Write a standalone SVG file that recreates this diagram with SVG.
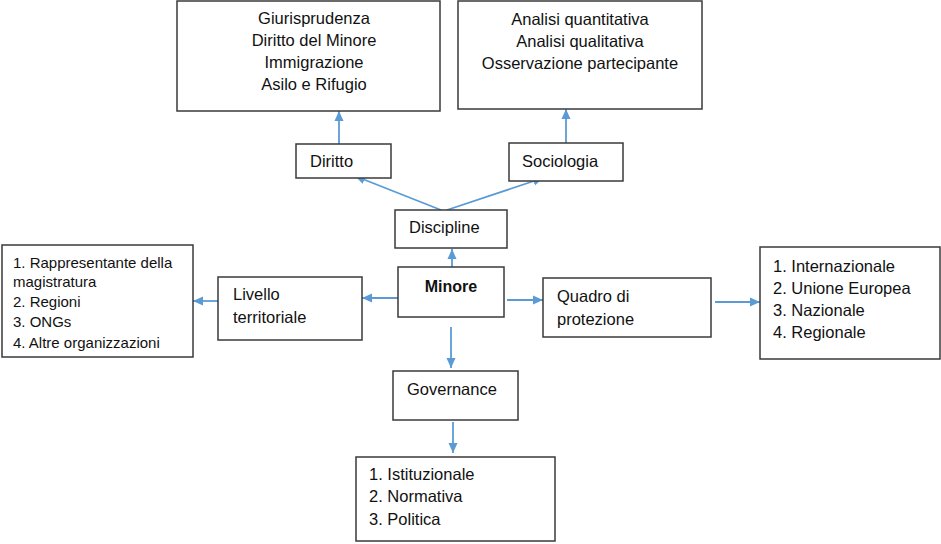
<svg xmlns="http://www.w3.org/2000/svg" width="941" height="544" viewBox="0 0 941 544">
<style>
.box{fill:#fff;stroke:#3a3a3a;stroke-width:1.5}
.t{font-family:"Liberation Sans",Arial,sans-serif;font-size:16.5px;fill:#111}
.s{font-size:15px}
.c{text-anchor:middle}
.b{font-weight:bold;font-size:16px}
.ln{stroke:#5B9BD5;stroke-width:1.8;fill:none;marker-end:url(#ah)}
</style>
<defs>
<marker id="ah" markerUnits="userSpaceOnUse" viewBox="0 0 10 10" refX="10" refY="5" markerWidth="10" markerHeight="10" orient="auto">
<path d="M0,0.5 L10,5 L0,9.5 Z" fill="#5B9BD5"/>
</marker>
</defs>
<rect width="941" height="544" fill="#fff"/>
<g id="connectors">
<line class="ln" x1="339" y1="144" x2="339" y2="111"/>
<line class="ln" x1="566" y1="143" x2="566" y2="109"/>
<line class="ln" x1="441" y1="210" x2="355" y2="176"/>
<line class="ln" x1="447" y1="210" x2="543" y2="178"/>
<line class="ln" x1="452" y1="275" x2="452" y2="249"/>
<line class="ln" x1="398" y1="298" x2="362" y2="298"/>
<line class="ln" x1="218" y1="301" x2="193" y2="301"/>
<line class="ln" x1="507" y1="300" x2="543" y2="300"/>
<line class="ln" x1="715" y1="302" x2="760" y2="302"/>
<line class="ln" x1="451" y1="327" x2="451" y2="368"/>
<line class="ln" x1="453" y1="422" x2="453" y2="453"/>
</g>
<g id="diritto-list">
<rect class="box" x="177" y="1" width="263" height="110"/>
<text class="t c" x="314" y="24">Giurisprudenza</text>
<text class="t c" x="314" y="46">Diritto del Minore</text>
<text class="t c" x="314" y="68">Immigrazione</text>
<text class="t c" x="314" y="90">Asilo e Rifugio</text>
</g>
<g id="sociologia-list">
<rect class="box" x="458" y="1" width="244" height="108"/>
<text class="t c" x="580" y="25">Analisi quantitativa</text>
<text class="t c" x="580" y="47">Analisi qualitativa</text>
<text class="t c" x="580" y="69">Osservazione partecipante</text>
</g>
<g id="diritto">
<rect class="box" x="296" y="144" width="95" height="34"/>
<text class="t" x="310" y="167">Diritto</text>
</g>
<g id="sociologia">
<rect class="box" x="509" y="143" width="114" height="38"/>
<text class="t" x="522" y="167">Sociologia</text>
</g>
<g id="discipline">
<rect class="box" x="395" y="210" width="112" height="38"/>
<text class="t" x="409" y="233">Discipline</text>
</g>
<g id="minore">
<rect class="box" x="398" y="267" width="106" height="50"/>
<text class="t b c" x="451" y="292">Minore</text>
</g>
<g id="livello">
<rect class="box" x="218" y="277" width="144" height="63"/>
<text class="t" x="233" y="300">Livello</text>
<text class="t" x="233" y="323">territoriale</text>
</g>
<g id="livello-list">
<rect class="box" x="2" y="245" width="191" height="112"/>
<text class="t s" x="13" y="268">1. Rappresentante della</text>
<text class="t s" x="13" y="287">magistratura</text>
<text class="t s" x="13" y="307">2. Regioni</text>
<text class="t s" x="13" y="327">3. ONGs</text>
<text class="t s" x="13" y="348">4. Altre organizzazioni</text>
</g>
<g id="quadro">
<rect class="box" x="543" y="278" width="168" height="59"/>
<text class="t" x="557" y="302">Quadro di</text>
<text class="t" x="557" y="325">protezione</text>
</g>
<g id="quadro-list">
<rect class="box" x="760" y="247" width="180" height="112"/>
<text class="t" x="773" y="272">1. Internazionale</text>
<text class="t" x="773" y="294">2. Unione Europea</text>
<text class="t" x="773" y="316">3. Nazionale</text>
<text class="t" x="773" y="338">4. Regionale</text>
</g>
<g id="governance">
<rect class="box" x="393" y="371" width="125" height="49"/>
<text class="t" x="407" y="395">Governance</text>
</g>
<g id="governance-list">
<rect class="box" x="356" y="457" width="199" height="84"/>
<text class="t" x="369" y="480">1. Istituzionale</text>
<text class="t" x="369" y="502">2. Normativa</text>
<text class="t" x="369" y="525">3. Politica</text>
</g>
</svg>
